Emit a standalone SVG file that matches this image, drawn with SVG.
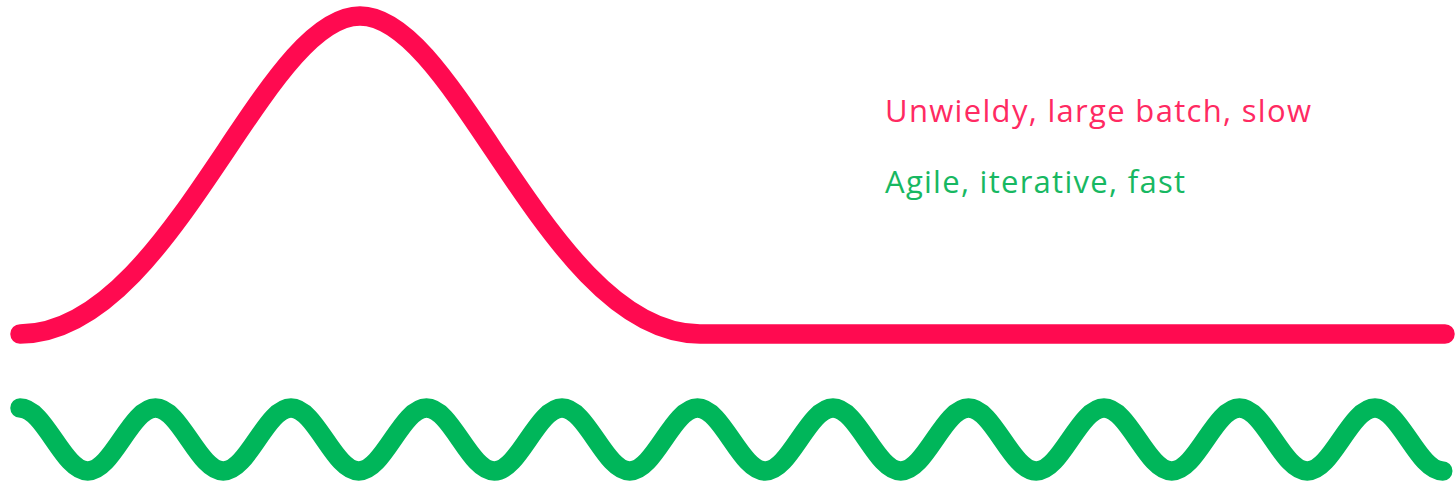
<svg xmlns="http://www.w3.org/2000/svg" width="1455" height="486" viewBox="0 0 1455 486">
  <style>
    .curve { fill: none; stroke-width: 19.5; stroke-linecap: round; stroke-linejoin: round; }
    .slow { stroke: #FF0A50; }
    .fast { stroke: #00B65A; }
    .label { font-family: "Open Sans", "Noto Sans", "Liberation Sans", sans-serif; font-size: 31px; }
  </style>
  <rect width="1455" height="486" fill="#FFFFFF"/>

  <!-- one big bump, then a long flat tail -->
  <g id="slow-curve">
    <path class="curve slow" d="M20,334 C170,334 262,16 360,16 C458,16 550,334 700,334 L1445,334"/>
  </g>

  <!-- steady small waves: 21 half-periods of 67.75px -->
  <g id="fast-curve">
    <path class="curve fast" d="M20,408 c24.66,0 43.09,63 67.75,63
      s43.09,-63 67.75,-63 s43.09,63 67.75,63
      s43.09,-63 67.75,-63 s43.09,63 67.75,63
      s43.09,-63 67.75,-63 s43.09,63 67.75,63
      s43.09,-63 67.75,-63 s43.09,63 67.75,63
      s43.09,-63 67.75,-63 s43.09,63 67.75,63
      s43.09,-63 67.75,-63 s43.09,63 67.75,63
      s43.09,-63 67.75,-63 s43.09,63 67.75,63
      s43.09,-63 67.75,-63 s43.09,63 67.75,63
      s43.09,-63 67.75,-63 s43.09,63 67.75,63
      s43.09,-63 67.75,-63 s43.09,63 67.75,63"/>
  </g>

  <g id="legend">
    <text class="label" x="885" y="122" fill="#FF2A62" textLength="426" lengthAdjust="spacing">Unwieldy, large batch, slow</text>
    <text class="label" x="885" y="193" fill="#17B862" textLength="300" lengthAdjust="spacing">Agile, iterative, fast</text>
  </g>
</svg>
